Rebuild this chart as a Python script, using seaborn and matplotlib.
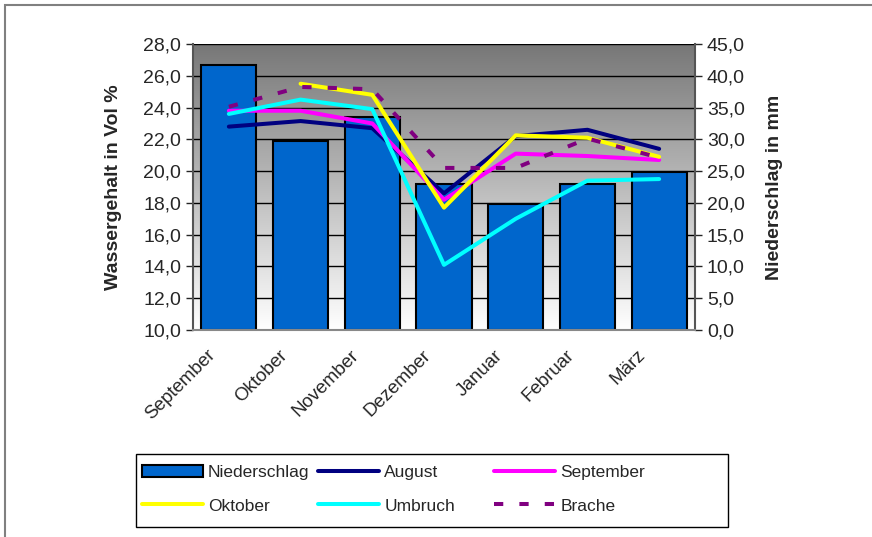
import numpy as np
import matplotlib
matplotlib.use("Agg")
import matplotlib.pyplot as plt
import matplotlib.patches as mpatches
from matplotlib.transforms import ScaledTranslation
import seaborn as sns

months = ["September", "Oktober", "November", "Dezember", "Januar", "Februar", "März"]
niederschlag = [41.7, 29.8, 33.5, 23.0, 19.8, 23.0, 24.8]
august = [22.8, 23.15, 22.7, 18.6, 22.2, 22.6, 21.4]
september = [23.8, 23.8, 23.0, 18.2, 21.1, 20.95, 20.7]
oktober = [np.nan, 25.5, 24.8, 17.7, 22.25, 22.1, 20.9]
umbruch = [23.6, 24.5, 23.9, 14.1, 17.0, 19.4, 19.5]
brache = [24.05, 25.3, 25.15, 20.2, 20.2, 22.05, 20.85]

series = [
    ("August", august, "#000080", "-"),
    ("September", september, "#FF00FF", "-"),
    ("Oktober", oktober, "#FFFF00", "-"),
    ("Umbruch", umbruch, "#00FFFF", "-"),
    ("Brache", brache, "#800080", (0, (2.3, 4))),
]

sns.set_style("white")
plt.rcParams['font.family'] = ['Liberation Sans', 'DejaVu Sans']

fig = plt.figure(figsize=(8.72, 5.37), dpi=100)
ax = fig.add_axes([193/872, 1-330/537, (695-193)/872, (330-44)/537])
ax2 = ax.twinx()
ax.set_zorder(ax2.get_zorder() + 1)
ax.patch.set_visible(False)

# grey gradient background of plot area
grad = np.linspace(0, 1, 256).reshape(-1, 1)
cmap = matplotlib.colors.LinearSegmentedColormap.from_list("g", ["#ffffff", "#777777"])
ax2.imshow(grad, cmap=cmap, aspect="auto", extent=[0, 1, 0, 1], origin="lower",
           transform=ax2.transAxes, zorder=0)

pos = np.arange(len(months))
sns.barplot(x=pos, y=niederschlag, ax=ax2, color="#0066CC", saturation=1,
            edgecolor="black", linewidth=1.5, width=0.77, native_scale=True, zorder=2)
ax2.set_ylim(0, 45)
ax2.set_yticks(np.arange(0, 46, 5))
ax2.set_yticklabels([f"{v:.1f}".replace(".", ",") for v in np.arange(0, 46, 5)])
ax2.yaxis.grid(True, color="black", linewidth=1)
ax2.set_axisbelow(True)
for gl in ax2.get_ygridlines():
    gl.set_zorder(1)
ax2.set_ylabel("Niederschlag in mm", fontsize=14, fontweight="bold", labelpad=15)

for name, vals, col, ls in series:
    sns.lineplot(x=pos, y=vals, ax=ax, color=col, linewidth=2.9, linestyle=ls, label=name)
ax.set_ylim(10, 28)
ax.set_yticks(np.arange(10, 29, 2))
ax.set_yticklabels([f"{v:.1f}".replace(".", ",") for v in np.arange(10, 29, 2)])
ax.set_ylabel("Wassergehalt in Vol %", fontsize=14, fontweight="bold", labelpad=15)
ax.set_xlim(-0.5, 6.5)
ax.set_xticks(pos)
ax.set_xticklabels(months, rotation=45, ha="right", rotation_mode="anchor")
ax.set_xticks(np.arange(-0.5, 7, 1), minor=True)
ax.tick_params(axis="x", which="major", length=0, pad=12, labelsize=13.5)
ax.tick_params(axis="x", which="minor", length=5, width=1, direction="out", color="black")
ax.tick_params(axis="y", length=5, width=1, direction="out", labelsize=14, left=True)
ax2.tick_params(axis="y", length=5, width=1, direction="out", labelsize=14, right=True)
ax2.tick_params(axis="x", length=0, labelbottom=False)
ax2.set_xlabel("")
shift = ScaledTranslation(-0.22, 0, fig.dpi_scale_trans)
for lbl in ax.get_xticklabels():
    lbl.set_transform(lbl.get_transform() + shift)
for a in (ax, ax2):
    for s in a.spines.values():
        s.set_visible(False)
ax.spines["left"].set_visible(True)
ax.spines["left"].set_color("#555555")
ax.spines["left"].set_linewidth(1.5)
ax2.spines["right"].set_visible(True)
ax2.spines["right"].set_color("#555555")
ax2.spines["right"].set_linewidth(1.5)
ax.spines["bottom"].set_visible(True)
ax.spines["bottom"].set_color("#888888")
ax.spines["bottom"].set_linewidth(1.5)

# legend, filled row by row like the original, equal column widths
ax.get_legend().remove()
h, l = ax.get_legend_handles_labels()
bar_handle = mpatches.Patch(facecolor="#0066CC", edgecolor="black", linewidth=1.5)
handles = [bar_handle] + h
labels = ["Niederschlag"] + l
order = [0, 3, 1, 4, 2, 5]
leg = fig.legend([handles[i] for i in order], [labels[i] for i in order], ncol=3,
                 loc="upper left", bbox_to_anchor=(142/872, 1-465/537),
                 frameon=False, handlelength=3.5, handletextpad=0.3, fontsize=12.5,
                 borderpad=0, labelspacing=1.05, borderaxespad=0, columnspacing=0.5)
leg._legend_handle_box.mode = "equal"
fig.add_artist(mpatches.Rectangle((136/872, 1-527/537), (728-136)/872, (527-454)/537,
                                  transform=fig.transFigure, fill=False,
                                  edgecolor="black", linewidth=1))

# outer chart frame
fig.add_artist(mpatches.Rectangle((5/872, -0.05), 1.1, 1-5/537+0.05, transform=fig.transFigure,
                                  fill=False, edgecolor="#808080", linewidth=1.5))

fig.savefig("out.png", dpi=100)
